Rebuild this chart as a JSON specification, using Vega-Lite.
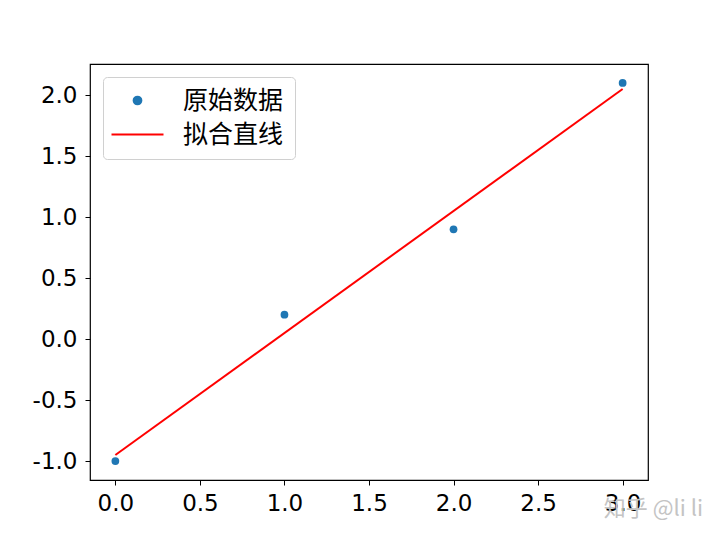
{
  "$schema": "https://vega.github.io/schema/vega-lite/v6.json",
  "width": 558,
  "height": 416,
  "autosize": {"type": "none"},
  "padding": {"left": 90, "top": 64, "right": 72, "bottom": 60},
  "background": "white",
  "config": {
    "view": {"stroke": "black", "strokeWidth": 1.2},
    "axis": {
      "grid": false,
      "domain": false,
      "tickColor": "black",
      "tickSize": 5,
      "tickWidth": 1,
      "labelFont": "DejaVu Sans",
      "labelFontSize": 23,
      "labelColor": "black",
      "title": null
    }
  },
  "data": {
    "values": [
      {"x": 0, "y": -1.0, "series": "原始数据"},
      {"x": 1, "y": 0.2, "series": "原始数据"},
      {"x": 2, "y": 0.9, "series": "原始数据"},
      {"x": 3, "y": 2.1, "series": "原始数据"},
      {"x": 0, "y": -0.95, "series": "拟合直线"},
      {"x": 3, "y": 2.05, "series": "拟合直线"}
    ]
  },
  "title": {
    "text": "知乎 @li li",
    "orient": "bottom",
    "anchor": "end",
    "font": "Noto Sans CJK SC",
    "fontSize": 22,
    "fontWeight": "normal",
    "color": "#c4c4c4",
    "dx": 55,
    "dy": -20
  },
  "encoding": {
    "x": {
      "field": "x",
      "type": "quantitative",
      "scale": {"domain": [-0.15, 3.15], "nice": false, "zero": false},
      "axis": {"values": [0, 0.5, 1, 1.5, 2, 2.5, 3], "labelPadding": 7, "labelExpr": "replace(format(datum.value, '.1f'), '\u2212', '-')"}
    },
    "y": {
      "field": "y",
      "type": "quantitative",
      "scale": {"domain": [-1.155, 2.255], "nice": false, "zero": false},
      "axis": {"values": [-1, -0.5, 0, 0.5, 1, 1.5, 2], "labelPadding": 8, "labelExpr": "replace(format(datum.value, '.1f'), '\u2212', '-')"}
    },
    "color": {
      "field": "series",
      "type": "nominal",
      "scale": {"domain": ["原始数据", "拟合直线"], "range": ["#1f77b4", "red"]},
      "legend": {
        "title": null,
        "orient": "top-left",
        "offset": 13,
        "padding": 11,
        "rowPadding": 8,
        "strokeColor": "#d0d0d0",
        "cornerRadius": 4,
        "fillColor": "rgba(255,255,255,0.8)",
        "labelFont": "Noto Sans CJK SC",
        "labelFontSize": 25,
        "labelColor": "black",
        "labelOffset": 33,
        "symbolOffset": 11,
        "symbolSize": 2704,
        "encode": {
          "symbols": {
            "update": {
              "shape": {"signal": "datum.value === '拟合直线' ? 'stroke' : 'circle'"},
              "size": {"signal": "datum.value === '拟合直线' ? 2704 : 60"},
              "fill": {"signal": "datum.value === '拟合直线' ? 'transparent' : '#1f77b4'"},
              "stroke": {"signal": "datum.value === '拟合直线' ? 'red' : 'transparent'"},
              "strokeWidth": {"value": 2},
              "opacity": {"value": 1}
            }
          }
        }
      }
    }
  },
  "layer": [
    {
      "transform": [{"filter": "datum.series === '原始数据'"}],
      "mark": {"type": "point", "filled": true, "size": 60, "opacity": 1}
    },
    {
      "transform": [{"filter": "datum.series === '拟合直线'"}],
      "mark": {"type": "line", "strokeWidth": 2}
    }
  ]
}
